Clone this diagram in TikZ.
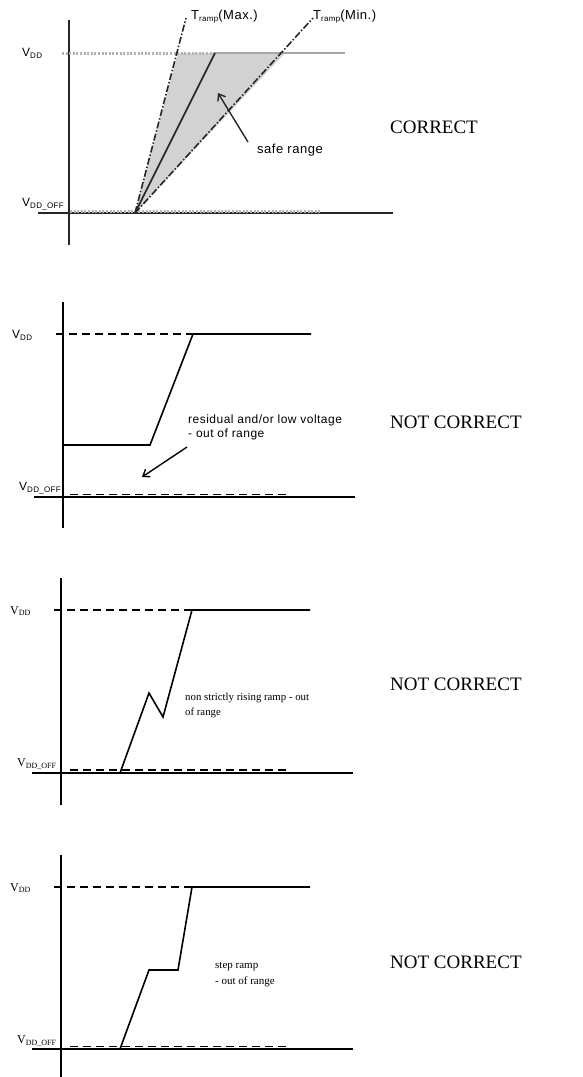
\documentclass[tikz,border=0pt]{standalone}
\usepackage{fontspec}
\setmainfont{Liberation Serif}
\newfontfamily\arialfont[LetterSpace=4]{Liberation Sans}
\usetikzlibrary{positioning,arrows.meta}

% small lowered index, as in V_DD
\newcommand{\idx}[1]{\raisebox{-0.3ex}{\fontsize{8}{8}\selectfont #1}}

\tikzset{
  axisline/.style={line width=1.6pt},
  trace/.style={line width=1.6pt, line join=miter},
  levelline/.style={line width=1.4pt, dash pattern=on 8pt off 5pt},
  dotline/.style={line width=3pt, gray!60, dash pattern=on 2pt off 1.6pt},
  limitline/.style={line width=1.6pt, black!85, dash pattern=on 7pt off 2pt on 1.5pt off 2pt},
  pointer/.style={-{Straight Barb[length=6pt,width=9pt]}, line width=1.4pt},
  lbl/.style={inner sep=0pt, anchor=west},
  sanslbl/.style={lbl, font=\arialfont\fontsize{12}{14}\selectfont},
  seriflbl/.style={lbl, font=\fontsize{12}{14}\selectfont},
  verdict/.style={inner sep=0pt, anchor=west, font=\fontsize{19}{22}\selectfont},
}

\begin{document}
\begin{tikzpicture}[x=1pt, y=-1pt]
  \useasboundingbox (0,0) rectangle (582,1077);

  % --- ramp inside the safe range
  \coordinate (aTop) at (69,20);
  \coordinate (aBot) at (69,245);
  \coordinate (aL) at (38,213);
  \coordinate (aR) at (393,213);
  \coordinate (aStart) at (135,213);
  \coordinate (aMax) at (178,53);
  \coordinate (aMid) at (215,53);
  \coordinate (aMin) at (285,53);
  \fill[gray!35] (aStart) -- (aMax) -- (aMin) -- cycle;
  \draw[axisline, black!85] (aTop) -- (aBot);
  \draw[axisline, black!85] (aL) -- (aR);
  \draw[dotline] (70,211.5) -- (320,211.5);
  \draw[dotline] (62,53) -- (aMid);
  \draw[line width=2.6pt, gray!70] (aMid) -- (345,53);
  \draw[limitline] (aStart) -- (186,18);
  \draw[limitline] (aStart) -- (313,18);
  \draw[trace, black!85] (aStart) -- (aMid);
  \node[sanslbl] (aVdd) at (22,53) {V\idx{DD}};
  \node[sanslbl] (aVoff) at (22,204) {V\idx{DD\_OFF}};
  \node[lbl, font=\arialfont\fontsize{13}{14}\selectfont] (tMax) at (191,17) {T\idx{ramp}(Max.)};
  \node[lbl, font=\arialfont\fontsize{13}{14}\selectfont] (tMin) at (313,17) {T\idx{ramp}(Min.)};
  \node[inner sep=1pt, font=\arialfont\fontsize{13}{14}\selectfont] (safe) at (290,150) {safe range};
  \draw[pointer, black!85] (248,142) -- (218,93);
  \node[verdict] (okA) at (390,127) {CORRECT};

  % --- residual voltage before the ramp
  \coordinate (bTop) at (63,302);
  \coordinate (bBot) at (63,528);
  \coordinate (bLow) at (150,445);
  \coordinate (bHigh) at (193,334);
  \draw[axisline] (bTop) -- (bBot);
  \draw[axisline] (34,497) -- (355,497);
  \draw[levelline] (56,334) -- (bHigh);
  \draw[levelline] (70,494.5) -- (290,494.5);
  \draw[trace] (63,445) -- (bLow) -- (bHigh) -- (311,334);
  \node[sanslbl] (bVdd) at (12,335) {V\idx{DD}};
  \node[sanslbl] (bVoff) at (19,488) {V\idx{DD\_OFF}};
  \node[sanslbl, align=left] (resid) at (188,427)
    {residual and/or low voltage\\- out of range};
  \draw[pointer] (187,447) -- (142,477);
  \node[verdict] (badB) at (390,422) {NOT CORRECT};

  % --- ramp that falls back on its way up
  \coordinate (cTop) at (61,578);
  \coordinate (cBot) at (61,805);
  \coordinate (cStart) at (120,773);
  \coordinate (cPeak) at (149,693);
  \coordinate (cDip) at (163,717);
  \coordinate (cHigh) at (192,610);
  \draw[axisline] (cTop) -- (cBot);
  \draw[axisline] (32,773) -- (353,773);
  \draw[levelline] (54,610) -- (cHigh);
  \draw[levelline] (70,770) -- (288,770);
  \draw[trace] (cStart) -- (cPeak) -- (cDip) -- (cHigh) -- (310,610);
  \node[seriflbl] (cVdd) at (10,611) {V\idx{DD}};
  \node[seriflbl] (cVoff) at (17,764) {V\idx{DD\_OFF}};
  \node[lbl, font=\fontsize{10.8}{15}\selectfont, align=left] (nonrise) at (185,705)
    {non strictly rising ramp - out\\of range};
  \node[verdict] (badC) at (390,684) {NOT CORRECT};

  % --- ramp with a flat step
  \coordinate (dTop) at (61,855);
  \coordinate (dBot) at (61,1077);
  \coordinate (dStart) at (120,1049);
  \coordinate (dStepA) at (149,970);
  \coordinate (dStepB) at (178,970);
  \coordinate (dHigh) at (192,887);
  \draw[axisline] (dTop) -- (dBot);
  \draw[axisline] (32,1049) -- (353,1049);
  \draw[levelline] (54,887) -- (dHigh);
  \draw[levelline] (70,1046.5) -- (288,1046.5);
  \draw[trace] (dStart) -- (dStepA) -- (dStepB) -- (dHigh) -- (310,887);
  \node[seriflbl] (dVdd) at (10,888) {V\idx{DD}};
  \node[seriflbl] (dVoff) at (17,1041) {V\idx{DD\_OFF}};
  \node[lbl, font=\fontsize{11}{16}\selectfont, align=left] (stepr) at (215,975)
    {step ramp\\- out of range};
  \node[verdict] (badD) at (390,962) {NOT CORRECT};
\end{tikzpicture}
\end{document}
